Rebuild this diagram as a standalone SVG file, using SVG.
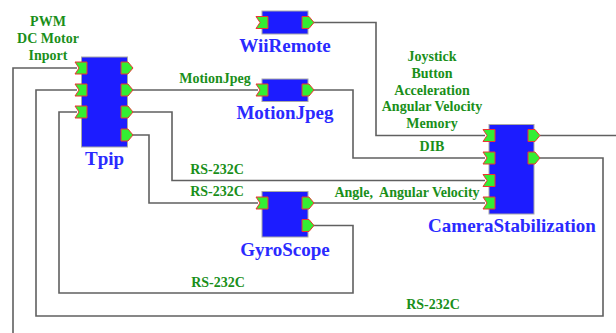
<svg xmlns="http://www.w3.org/2000/svg" width="616" height="333" viewBox="0 0 616 333">
<style>
.bg{fill:#ffffff}
.body{fill:#1c1cff;stroke:#a8a8a8;stroke-width:1}
.in,.out{fill:#33ee33;stroke:#ee3333;stroke-width:1}
.wire{fill:none;stroke:#606060;stroke-width:1.6}
.name{font-family:"Liberation Serif",serif;font-weight:bold;font-size:19px;fill:#2a2aff;text-anchor:middle}
.lbl{font-family:"Liberation Serif",serif;font-weight:bold;font-size:14px;fill:#1a8f1a;text-anchor:middle}
</style>
<rect class="bg" x="0" y="0" width="616" height="333"/>
<g id="connectors">
<path class="wire" d="M77 68 H13 V333"/>
<path class="wire" d="M77 90 H36 V316 H603 V158 H540"/>
<path class="wire" d="M77 112 H59 V293 H353 V225.5 H313"/>
<path class="wire" d="M132 90 H258"/>
<path class="wire" d="M313 90 H353 V158 H485"/>
<path class="wire" d="M132 112 H172 V180.5 H485"/>
<path class="wire" d="M132 135 H149 V203 H258"/>
<path class="wire" d="M313 203 H485"/>
<path class="wire" d="M313 22.5 H376 V135.5 H485"/>
<path class="wire" d="M540 135.5 H616"/>
</g>
<g id="labels">
<text class="lbl" x="48" y="26">PWM</text>
<text class="lbl" x="48" y="43">DC Motor</text>
<text class="lbl" x="48" y="60">Inport</text>
<text class="lbl" x="215" y="83">MotionJpeg</text>
<text class="lbl" x="217" y="174">RS-232C</text>
<text class="lbl" x="217" y="196">RS-232C</text>
<text class="lbl" x="218" y="287">RS-232C</text>
<text class="lbl" x="433" y="309">RS-232C</text>
<text class="lbl" x="432" y="61">Joystick</text>
<text class="lbl" x="432" y="78">Button</text>
<text class="lbl" x="432" y="95">Acceleration</text>
<text class="lbl" x="432" y="111">Angular Velocity</text>
<text class="lbl" x="432" y="128">Memory</text>
<text class="lbl" x="432" y="151">DIB</text>
<text class="lbl" x="407" y="197" xml:space="preserve">Angle,  Angular Velocity</text>
</g>
<g id="Tpip">
<rect class="body" x="81.5" y="57" width="46" height="90"/>
<polygon class="in" points="75,62 87,62 87,74 75,74 79,68"/>
<polygon class="in" points="75,84 87,84 87,96 75,96 79,90"/>
<polygon class="in" points="75,106 87,106 87,118 75,118 79,112"/>
<polygon class="out" points="121,62 128,62 133,68 128,74 121,74"/>
<polygon class="out" points="121,84 128,84 133,90 128,96 121,96"/>
<polygon class="out" points="121,106 128,106 133,112 128,118 121,118"/>
<polygon class="out" points="121,129 128,129 133,135 128,141 121,141"/>
<text class="name" x="104.5" y="164.5">Tpip</text>
</g>
<g id="WiiRemote">
<rect class="body" x="262" y="11" width="46" height="23"/>
<polygon class="in" points="256,16.5 268,16.5 268,28.5 256,28.5 260,22.5"/>
<polygon class="out" points="302,16.5 309,16.5 314,22.5 309,28.5 302,28.5"/>
<text class="name" x="285" y="51.5">WiiRemote</text>
</g>
<g id="MotionJpeg">
<rect class="body" x="262" y="79" width="46" height="22.5"/>
<polygon class="in" points="256,84 268,84 268,96 256,96 260,90"/>
<polygon class="out" points="302,84 309,84 314,90 309,96 302,96"/>
<text class="name" x="285" y="118.5">MotionJpeg</text>
</g>
<g id="GyroScope">
<rect class="body" x="262" y="191.5" width="46" height="45.5"/>
<polygon class="in" points="256,197 268,197 268,209 256,209 260,203"/>
<polygon class="out" points="302,197 309,197 314,203 309,209 302,209"/>
<polygon class="out" points="302,219.5 309,219.5 314,225.5 309,231.5 302,231.5"/>
<text class="name" x="285" y="256">GyroScope</text>
</g>
<g id="CameraStabilization">
<rect class="body" x="489" y="124.5" width="45" height="89.5"/>
<polygon class="in" points="483,129.5 495,129.5 495,141.5 483,141.5 487,135.5"/>
<polygon class="in" points="483,152 495,152 495,164 483,164 487,158"/>
<polygon class="in" points="483,174.5 495,174.5 495,186.5 483,186.5 487,180.5"/>
<polygon class="in" points="483,197 495,197 495,209 483,209 487,203"/>
<polygon class="out" points="528,129.5 535,129.5 540,135.5 535,141.5 528,141.5"/>
<polygon class="out" points="528,152 535,152 540,158 535,164 528,164"/>
<text class="name" x="512" y="232">CameraStabilization</text>
</g>
</svg>
